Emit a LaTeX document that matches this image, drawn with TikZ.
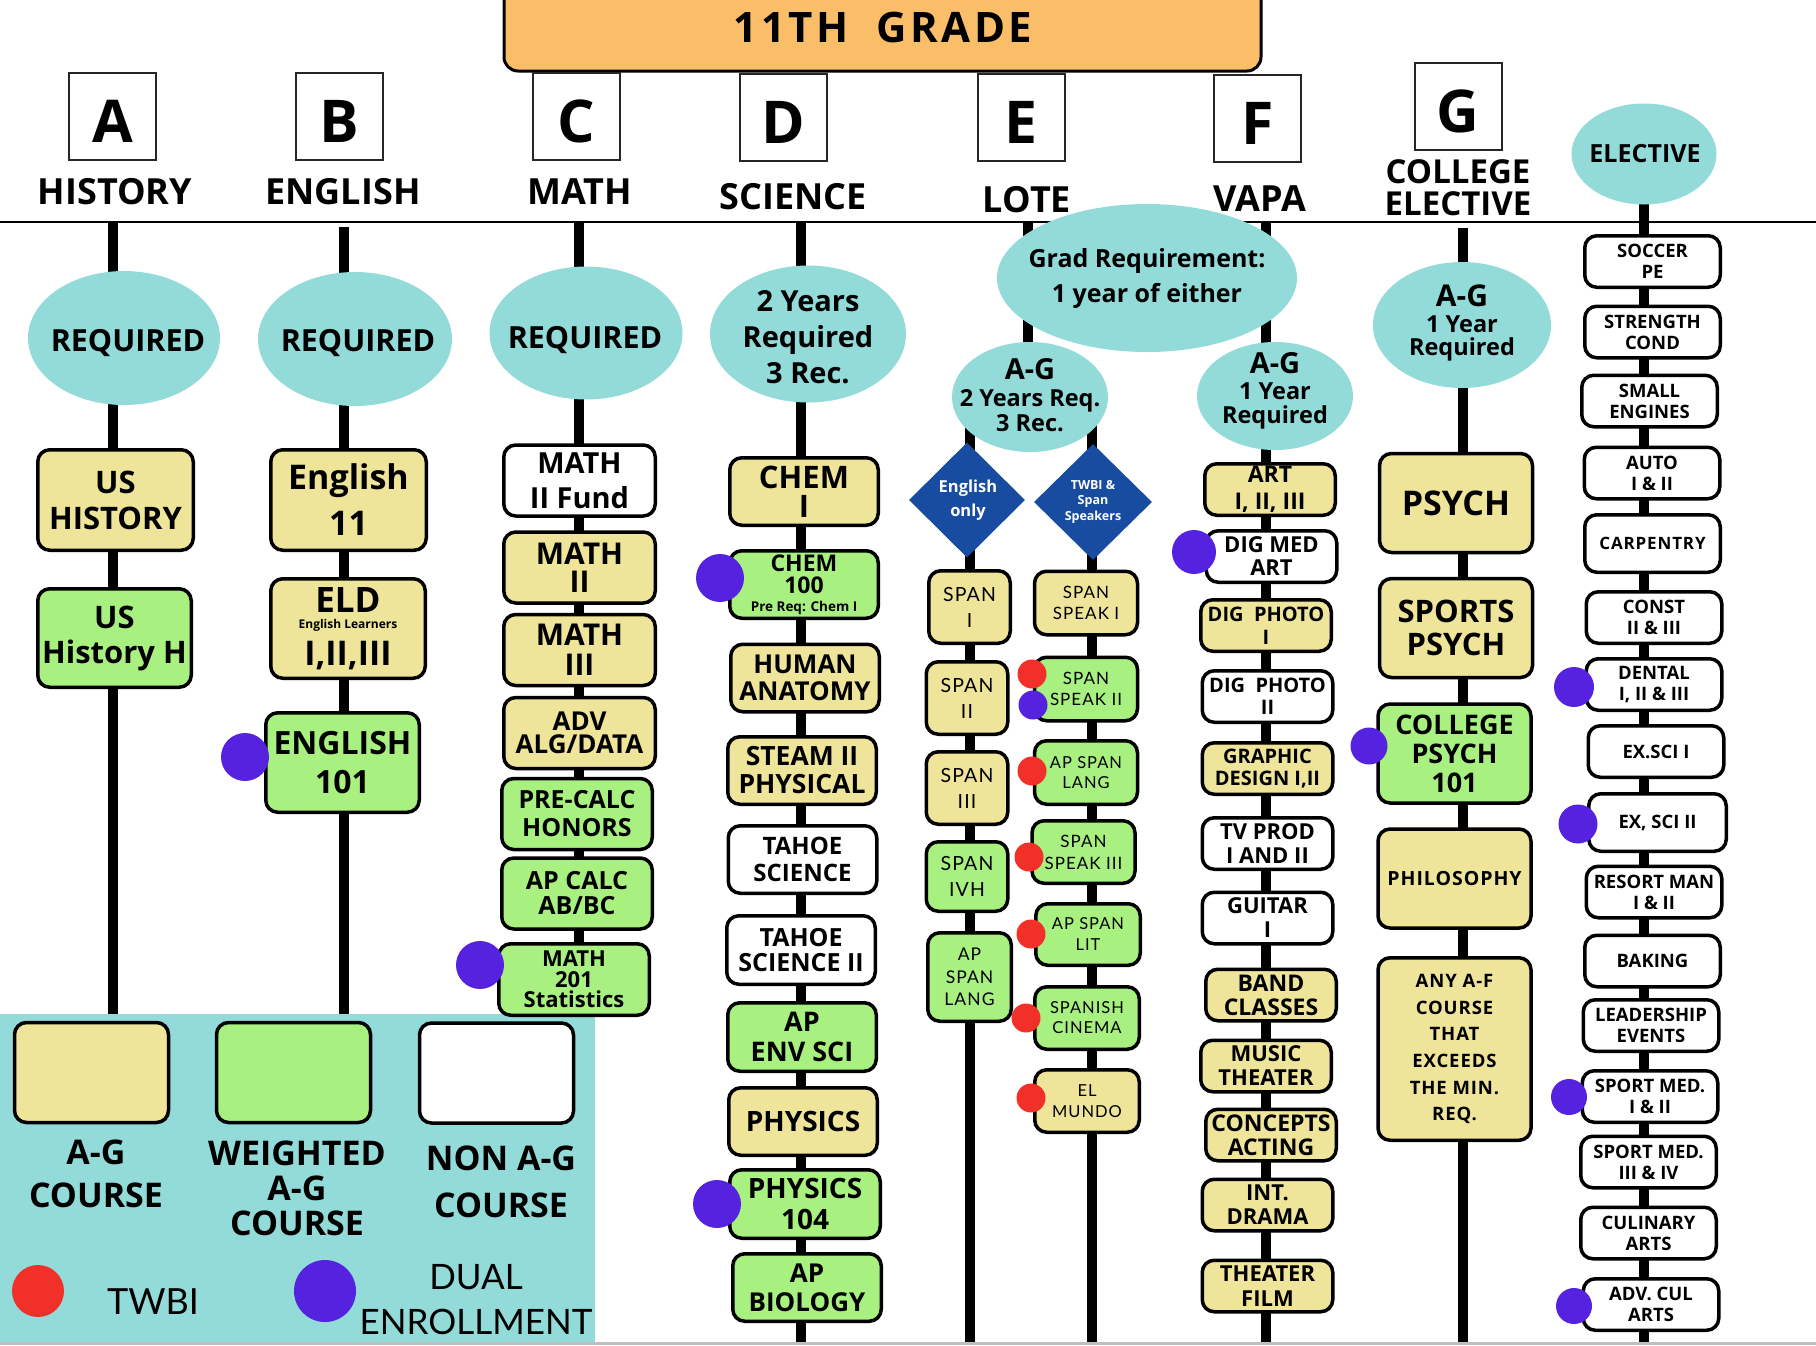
\documentclass[tikz,border=0pt]{standalone}
\usepackage{fontspec}
\setmainfont{Open Sans}
\newfontfamily\ltf{Lato}
\newfontfamily\ltfs[LetterSpace=6]{Lato}
\newfontfamily\osls[LetterSpace=5]{Open Sans}
\newfontfamily\ostt[LetterSpace=8]{Open Sans}
\usetikzlibrary{shapes.geometric}
\definecolor{agy}{RGB}{238,228,154}
\definecolor{wgr}{RGB}{168,240,128}
\definecolor{tealc}{RGB}{147,219,217}
\definecolor{orng}{RGB}{251,190,104}
\definecolor{dualc}{RGB}{85,35,224}
\definecolor{twbic}{RGB}{242,48,42}
\definecolor{diamc}{RGB}{24,76,160}
\newcommand\fsz[2]{\fontsize{#1}{#2}\selectfont}
\begin{document}
\lineskiplimit=-\maxdimen
\begin{tikzpicture}[x=1pt,y=-1pt,
 box/.style={draw=black, line width=3.5pt, rounded corners=12pt, inner sep=0pt, align=center},
 ag/.style={box, fill=agy}, wt/.style={box, fill=wgr}, na/.style={box, fill=white},
 oval/.style={ellipse, fill=tealc, inner sep=0pt},
 otext/.style={inner sep=0pt, align=center},
 spine/.style={line width=10pt, draw=black},
 hdr/.style={draw=black!85, line width=2pt, fill=white, minimum width=87pt, minimum height=87pt, inner sep=0pt, text height=52pt, text depth=0pt, font=\bfseries\fsz{59}{59}},
 cat/.style={font=\bfseries\fsz{36}{32}, inner sep=0pt, align=center},
 dual/.style={circle, fill=dualc, inner sep=0pt},
 twbi/.style={circle, fill=twbic, inner sep=0pt},
 dia/.style={diamond, fill=diamc, inner sep=0pt, minimum width=116pt, minimum height=115pt},
 ha/.style={minimum width=155.5pt, minimum height=100.5pt},
 mb/.style={minimum width=151.5pt, minimum height=71pt},
 sb/.style={minimum width=148.5pt, minimum height=67.5pt},
 spb/.style={minimum width=81.5pt, minimum height=72.5pt, font=\ltfs\fsz{19.5}{26}},
 ssb/.style={minimum width=103pt, minimum height=63.5pt, font=\ltfs\fsz{17}{21}},
 vb/.style={minimum width=130.5pt, minimum height=51.5pt, font=\bfseries\fsz{22}{24}},
 cb/.style={minimum width=153pt, minimum height=99pt},
 eb/.style={minimum width=135.5pt, minimum height=51.5pt, font=\bfseries\fsz{18.5}{21}},
 lgt/.style={inner sep=0pt, align=center, font=\bfseries\fsz{34}{43}}
]
\useasboundingbox (0,0) rectangle (1816,1345);

% coordinates for the horizontal rule and the spines
\coordinate (hl0) at (0,222);   \coordinate (hl1) at (1816,222);
\coordinate (sA0) at (113,222); \coordinate (sA1) at (113,1014);
\coordinate (sB0) at (344,227); \coordinate (sB1) at (344,1014);
\coordinate (sC0) at (579,222); \coordinate (sC1) at (579,980);
\coordinate (sD0) at (801,222); \coordinate (sD1) at (801,1345);
\coordinate (sE0) at (1028,222); \coordinate (sE1) at (1028,397);
\coordinate (sE2) at (970,397); \coordinate (sE3) at (970,1345);
\coordinate (sE4) at (1092,397); \coordinate (sE5) at (1092,1345);
\coordinate (sF0) at (1266,222); \coordinate (sF1) at (1266,1345);
\coordinate (sG0) at (1463,228); \coordinate (sG1) at (1463,1345);
\coordinate (sH0) at (1644,154); \coordinate (sH1) at (1644,1345);
\coordinate (bl0) at (0,1343.5); \coordinate (bl1) at (1816,1343.5);

\draw[line width=2.5pt] (hl0) -- (hl1);
\foreach \a/\b in {sA0/sA1,sB0/sB1,sC0/sC1,sD0/sD1,sE0/sE1,sE2/sE3,sE4/sE5,sF0/sF1,sG0/sG1,sH0/sH1}
  \draw[spine] (\a) -- (\b);

% banner
\node[draw=black, line width=3pt, fill=orng, rounded corners=14pt, minimum width=757pt, minimum height=100pt, inner sep=0pt] (banner) at (882.5,21) {};
\node[inner sep=0pt, font=\ostt\bfseries\fsz{42}{42}] (title) at (883,27) {11TH\ \ GRADE};

% header letters
\node[hdr] (hA) at (112.5,116.5) {A};
\node[hdr] (hB) at (339,116.5) {B};
\node[hdr] (hC) at (576.5,116.5) {C};
\node[hdr] (hD) at (783.5,117) {D};
\node[hdr] (hE) at (1021,117) {E};
\node[hdr] (hF) at (1257.5,118) {F};
\node[hdr] (hG) at (1458,106) {G};

\node[cat] (lA) at (115,192) {HISTORY};
\node[cat] (lB) at (343,192) {ENGLISH};
\node[cat] (lC) at (580,192) {MATH};
\node[cat] (lD) at (793,197) {SCIENCE};
\node[cat] (lE) at (1027,200) {LOTE};
\node[cat] (lF) at (1260,199) {VAPA};
\node[cat, font=\bfseries\fsz{33}{32}] (lG) at (1458,188) {COLLEGE\\ELECTIVE};

% ellipses
\node[oval, minimum width=192pt, minimum height=134pt] (rA) at (124,338) {};
\node[oval, minimum width=194pt, minimum height=134pt] (rB) at (355,339) {};
\node[oval, minimum width=193pt, minimum height=133pt] (rC) at (586,333) {};
\node[oval, minimum width=196pt, minimum height=137pt] (rD) at (808,334) {};
\node[oval, minimum width=300pt, minimum height=148pt] (grad) at (1147,278) {};
\node[oval, minimum width=156pt, minimum height=110pt] (rE) at (1030,397) {};
\node[oval, minimum width=156pt, minimum height=108pt] (rF) at (1275,396) {};
\node[oval, minimum width=178pt, minimum height=126pt] (rG) at (1462,325) {};
\node[oval, minimum width=145pt, minimum height=101pt] (rH) at (1644,154) {};

\node[otext, font=\bfseries\fsz{30.5}{30}] (rAt) at (128,343) {REQUIRED};
\node[otext, font=\bfseries\fsz{30.5}{30}] (rBt) at (358,343) {REQUIRED};
\node[otext, font=\bfseries\fsz{30.5}{30}] (rCt) at (585,340) {REQUIRED};
\node[otext, font=\bfseries\fsz{29}{36}] (rDt) at (808,337) {2 Years\\Required\\3 Rec.};
\node[otext, font=\bfseries\fsz{25}{35}] (gradt) at (1147,278) {Grad Requirement:\\1 year of either};
\node[otext, font=\bfseries\fsz{23.5}{25}] (rEt) at (1030,395) {{\fsz{29}{25}A-G}\\[2.5pt]2 Years Req.\\3 Rec.};
\node[otext, font=\bfseries\fsz{23.5}{24}] (rFt) at (1275,391) {{\fsz{29}{24}A-G}\\[2.5pt]1 Year\\Required};
\node[otext, font=\bfseries\fsz{23.5}{23}] (rGt) at (1462,322.5) {{\fsz{30}{23}A-G}\\[3pt]1 Year\\Required};
\node[otext, font=\bfseries\fsz{25}{25}] (rHt) at (1645,154) {ELECTIVE};

% diamonds
\node[dia] (dEn) at (967,500) {};
\node[dia, minimum width=118pt, minimum height=116pt] (dTw) at (1093,502) {};
\node[otext, text=white, font=\bfseries\fsz{16.5}{24}] (dEnt) at (968,500) {English\\only};
\node[otext, text=white, font=\bfseries\fsz{12.5}{15.5}] (dTwt) at (1093,501.5) {TWBI \&\\Span\\Speakers};

% legend
\node[fill=tealc, minimum width=595pt, minimum height=331pt, anchor=north west, inner sep=0pt] (legbg) at (0,1014) {};
\node[ag, minimum width=154pt, minimum height=100pt] (lg1) at (91.5,1072.5) {};
\node[wt, minimum width=154pt, minimum height=100pt] (lg2) at (293.5,1072.5) {};
\node[na, minimum width=154pt, minimum height=100pt] (lg3) at (496.5,1073) {};
\node[lgt] (lg1t) at (96,1174) {A-G\\COURSE};
\node[lgt, font=\bfseries\fsz{34}{35}] (lg2t) at (297,1188) {WEIGHTED\\A-G\\COURSE};
\node[lgt, font=\bfseries\fsz{34}{47}] (lg3t) at (501,1182) {NON A-G\\COURSE};
\node[twbi, minimum size=52pt] (lgr) at (38,1291) {};
\node[inner sep=0pt, font=\ltf\fsz{36}{36}] (lgrt) at (153,1302) {TWBI};
\node[dual, minimum size=62pt] (lgp) at (325,1291) {};
\node[inner sep=0pt, align=center, font=\ltf\fsz{35}{45}] (lgpt) at (476,1300) {DUAL\\ENROLLMENT};

% history
\node[ag, ha, font=\bfseries\fsz{31}{36}] (ush) at (115.5,500) {US\\HISTORY};
\node[wt, minimum width=153.5pt, minimum height=98.5pt, font=\bfseries\fsz{31}{35}] (ushh) at (114.5,638) {US\\History H};
% english
\node[ag, ha, font=\bfseries\fsz{34}{46}] (eng11) at (348.5,500) {English\\11};
\node[ag, minimum width=154.5pt, minimum height=99.5pt, font=\bfseries\fsz{35}{16.5}] (eld) at (348,628.5) {ELD\\{\fsz{12}{16.5}\mdseries\bfseries English Learners}\\[20.5pt]{\fsz{34}{16.5}I,II,III}};
\node[wt, minimum width=153.5pt, minimum height=99.5pt, font=\bfseries\fsz{32}{39}] (eng101) at (342.5,762.5) {ENGLISH\\101};
% math
\node[na, mb, font=\bfseries\fsz{29}{35}] (m2f) at (579.5,480.5) {MATH\\II Fund};
\node[ag, mb, font=\bfseries\fsz{30}{28}] (m2) at (579.5,567.5) {MATH\\II};
\node[ag, mb, font=\bfseries\fsz{30}{30}] (m3) at (579.5,650) {MATH\\III};
\node[ag, mb, font=\bfseries\fsz{26}{23}] (adv) at (579.5,733) {ADV\\ALG/DATA};
\node[wt, mb, minimum width=150.5pt, font=\bfseries\fsz{25}{28}] (prec) at (577,814) {PRE-CALC\\HONORS};
\node[wt, mb, minimum width=150.5pt, font=\bfseries\fsz{25}{25}] (apc) at (577,893.5) {AP CALC\\AB/BC};
\node[wt, mb, minimum width=150.5pt, minimum height=71.5pt, font=\bfseries\fsz{22}{20.5}] (m201) at (574,979.5) {MATH\\201\\Statistics};
% science
\node[ag, sb, font=\bfseries\fsz{31}{29}] (chem1) at (804,491.5) {CHEM\\I};
\node[wt, sb, font=\bfseries\fsz{23}{22}] (chem100) at (804,584.5) {CHEM\\100\\[-4pt]{\fsz{13.5}{22}Pre Req: Chem I}};
\node[ag, sb, font=\bfseries\fsz{26}{27}] (hum) at (805,678) {HUMAN\\ANATOMY};
\node[ag, sb, font=\bfseries\fsz{26.5}{28}] (steam) at (802,770.5) {STEAM II\\PHYSICAL};
\node[na, sb, font=\bfseries\fsz{24}{27}] (tahoe) at (802.5,859.5) {TAHOE\\SCIENCE};
\node[na, sb, minimum height=68.5pt, font=\bfseries\fsz{25}{25}] (tahoe2) at (801,950) {TAHOE\\SCIENCE II};
\node[wt, sb, minimum height=68.5pt, font=\bfseries\fsz{27}{30}] (apenv) at (802,1037) {AP\\ENV SCI};
\node[ag, sb, font=\bfseries\fsz{28}{28}] (phys) at (803,1121.5) {PHYSICS};
\node[wt, sb, minimum width=150.5pt, minimum height=68.5pt, font=\bfseries\fsz{28}{31}] (phys104) at (805,1204) {PHYSICS\\104};
\node[wt, sb, font=\bfseries\fsz{26}{29}] (apbio) at (807,1287.5) {AP\\BIOLOGY};
% LOTE english only
\node[ag, spb] (sp1) at (969.5,607) {SPAN\\I};
\node[ag, spb] (sp2) at (967,698) {SPAN\\II};
\node[ag, spb] (sp3) at (967,788) {SPAN\\III};
\node[wt, spb, minimum height=69.5pt] (sp4) at (967,876.5) {SPAN\\IVH};
\node[wt, spb, minimum width=83.5pt, minimum height=88.5pt, font=\ltfs\fsz{17.5}{22.5}] (apsl) at (969.5,977) {AP\\SPAN\\LANG};
% LOTE TWBI
\node[ag, ssb] (ss1) at (1086,603) {SPAN\\SPEAK I};
\node[wt, ssb] (ss2) at (1086,689) {SPAN\\SPEAK II};
\node[wt, ssb, font=\ltfs\fsz{16.5}{20}] (apsp) at (1086,772.5) {AP SPAN\\LANG};
\node[wt, ssb, minimum height=62.5pt, font=\ltfs\fsz{17}{22}] (ss3) at (1083.5,852) {SPAN\\SPEAK III};
\node[wt, ssb, minimum width=104.5pt, minimum height=61.5pt, font=\ltfs\fsz{16.5}{21}] (apslit) at (1088,934.5) {AP SPAN\\LIT};
\node[wt, ssb, minimum width=104.5pt, minimum height=62.5pt, font=\ltfs\fsz{16.5}{20}] (spcin) at (1087,1018) {SPANISH\\CINEMA};
\node[ag, ssb, minimum width=104.5pt, minimum height=62.5pt, font=\ltfs\fsz{16.5}{21}] (elm) at (1087,1101) {EL\\MUNDO};
% VAPA
\node[ag, vb, font=\bfseries\fsz{23}{27}] (art) at (1270,489.5) {ART\\I, II, III};
\node[na, vb, font=\bfseries\fsz{22}{23}] (digm) at (1271.5,556.5) {DIG MED\\ART};
\node[ag, vb, font=\bfseries\fsz{20}{23}] (dp1) at (1266,625.5) {DIG\ \ PHOTO\\I};
\node[na, vb, font=\bfseries\fsz{20}{22}] (dp2) at (1267.5,696.5) {DIG\ \ PHOTO\\II};
\node[ag, vb, font=\bfseries\fsz{20}{22}] (gd) at (1267.5,768.5) {GRAPHIC\\DESIGN I,II};
\node[na, vb] (tv) at (1267.5,843.5) {TV PROD\\I AND II};
\node[na, vb] (gui) at (1267.5,918) {GUITAR\\I};
\node[ag, vb, font=\bfseries\fsz{23}{24}] (band) at (1271,995) {BAND\\CLASSES};
\node[ag, vb] (mus) at (1266,1066) {MUSIC\\THEATER};
\node[ag, vb, font=\bfseries\fsz{23}{24}] (conc) at (1271,1135) {CONCEPTS\\ACTING};
\node[ag, vb] (intd) at (1267.5,1205) {INT.\\DRAMA};
\node[ag, vb, font=\bfseries\fsz{22}{25}] (thf) at (1267.5,1286) {THEATER\\FILM};
% college elective
\node[ag, cb, font=\bfseries\fsz{34}{34}] (psy) at (1456,503) {PSYCH};
\node[ag, cb, font=\bfseries\fsz{31}{33}] (spsy) at (1456,628) {SPORTS\\PSYCH};
\node[wt, cb, font=\bfseries\fsz{27}{29}] (cpsy) at (1454.5,753.5) {COLLEGE\\PSYCH\\101};
\node[ag, cb, font=\osls\bfseries\fsz{19.5}{20}] (philo) at (1454.5,878.5) {PHILOSOPHY};
\node[ag, cb, minimum height=182.5pt, font=\osls\bfseries\fsz{18.5}{26.7}] (anyaf) at (1454.5,1049) {ANY A-F\\COURSE\\THAT\\EXCEEDS\\THE MIN.\\REQ.};
% elective
\node[na, eb] (soc) at (1652.5,261.5) {SOCCER\\PE};
\node[na, eb] (str) at (1652.5,332) {STRENGTH\\COND};
\node[na, eb] (sme) at (1649.5,401) {SMALL\\ENGINES};
\node[na, eb] (aut) at (1652,473) {AUTO\\I \& II};
\node[na, eb, minimum height=57.5pt, font=\osls\bfseries\fsz{17}{21}] (carp) at (1652.5,543.5) {CARPENTRY};
\node[na, eb] (cons) at (1654,617.5) {CONST\\II \& III};
\node[na, eb] (dent) at (1654,684.5) {DENTAL\\I, II \& III};
\node[na, eb] (ex1) at (1656,751.5) {EX.SCI I};
\node[na, eb, minimum width=137.5pt, minimum height=57.5pt] (ex2) at (1657.5,822.5) {EX, SCI II};
\node[na, eb] (res) at (1654,892) {RESORT MAN\\I \& II};
\node[na, eb] (bak) at (1652.5,961) {BAKING};
\node[na, eb] (lead) at (1651,1025.5) {LEADERSHIP\\EVENTS};
\node[na, eb] (sm12) at (1650,1096.5) {SPORT MED.\\I \& II};
\node[na, eb] (sm34) at (1648.5,1162) {SPORT MED.\\III \& IV};
\node[na, eb] (cul) at (1648.5,1233) {CULINARY\\ARTS};
\node[na, eb] (acul) at (1651,1304.5) {ADV. CUL\\ARTS};

% dual enrollment dots
\node[dual, minimum size=48pt] (du1) at (245,757) {};
\node[dual, minimum size=48pt] (du2) at (480,965) {};
\node[dual, minimum size=48pt] (du3) at (720,578) {};
\node[dual, minimum size=48pt] (du4) at (717,1204) {};
\node[dual, minimum size=44pt] (du5) at (1194,552) {};
\node[dual, minimum size=37pt] (du6) at (1369,746) {};
\node[dual, minimum size=40pt] (du7) at (1574,687) {};
\node[dual, minimum size=39pt] (du8) at (1578,824) {};
\node[dual, minimum size=36pt] (du9) at (1569,1097) {};
\node[dual, minimum size=36pt] (du10) at (1574,1306) {};
% twbi dots
\node[twbi, minimum size=29pt] (tw1) at (1032,674) {};
\node[dual, minimum size=29pt] (du11) at (1033,705) {};
\node[twbi, minimum size=29pt] (tw2) at (1032,771) {};
\node[twbi, minimum size=29pt] (tw3) at (1029,857) {};
\node[twbi, minimum size=29pt] (tw4) at (1031,934) {};
\node[twbi, minimum size=29pt] (tw5) at (1026,1018) {};
\node[twbi, minimum size=29pt] (tw6) at (1031,1098) {};

\draw[line width=3pt, black!25] (bl0) -- (bl1);
\end{tikzpicture}
\end{document}
